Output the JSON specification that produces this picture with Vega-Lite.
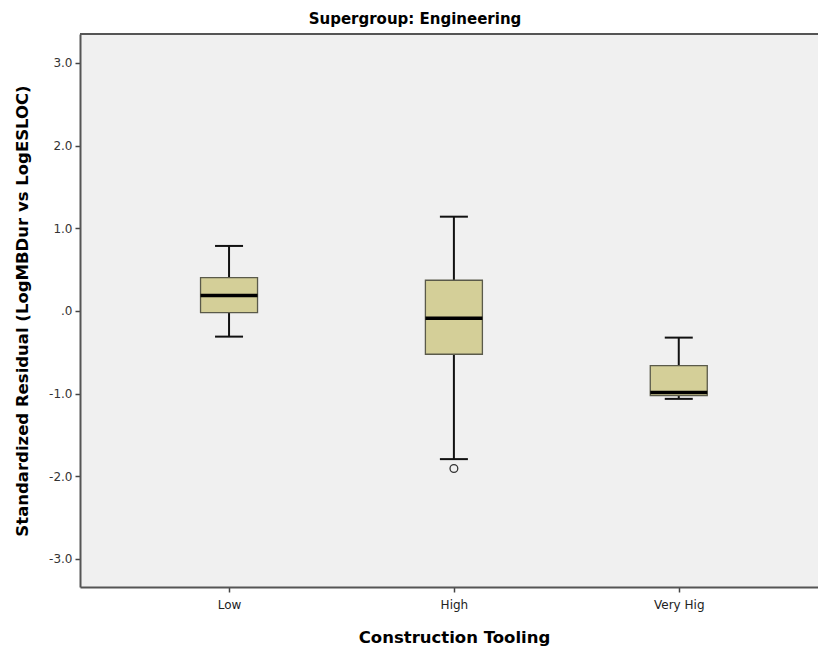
{
  "$schema": "https://vega.github.io/schema/vega-lite/v6.json",
  "width": 738,
  "height": 553,
  "autosize": {"type": "none"},
  "padding": {"left": 80, "top": 34, "right": 0, "bottom": 62},
  "background": "#ffffff",
  "title": {
    "text": "Supergroup: Engineering",
    "font": "DejaVu Sans",
    "fontSize": 15,
    "fontWeight": "bold",
    "color": "#000000",
    "anchor": "middle",
    "dx": -34,
    "offset": 6
  },
  "datasets": {
    "boxes": [
      {"tooling": "Low", "lower": -0.311, "q1": -0.02, "median": 0.185, "q3": 0.403, "upper": 0.786},
      {"tooling": "High", "lower": -1.793, "q1": -0.524, "median": -0.088, "q3": 0.371, "upper": 1.14},
      {"tooling": "Very High", "lower": -1.064, "q1": -1.024, "median": -0.988, "q3": -0.661, "upper": -0.323}
    ],
    "outliers": [
      {"tooling": "High", "value": -1.907}
    ]
  },
  "data": {"name": "boxes"},
  "encoding": {
    "x": {
      "field": "tooling",
      "type": "nominal",
      "sort": ["Low", "High", "Very High"],
      "scale": {"type": "point", "domain": ["Low", "High", "Very High"], "padding": 0.641, "align": 0.517},
      "axis": {
        "title": "Construction Tooling",
        "titleFont": "DejaVu Sans",
        "titleFontSize": 16.5,
        "titleFontWeight": "bold",
        "titleColor": "#000000",
        "titleX": 374,
        "titleY": 50,
        "titleBaseline": "middle",
        "labelFont": "DejaVu Sans",
        "labelFontSize": 12,
        "labelColor": "#222222",
        "labelAngle": 0,
        "labelPadding": 7,
        "labelExpr": "datum.label == 'Very High' ? 'Very Hig' : datum.label",
        "tickSize": 5,
        "tickColor": "#444444",
        "tickWidth": 1.5,
        "domainColor": "#555555",
        "domainWidth": 2,
        "grid": false
      }
    }
  },
  "layer": [
    {
      "mark": {"type": "rule", "color": "#555555", "strokeWidth": 2},
      "encoding": {"x": null, "y": {"datum": 3.35, "type": "quantitative"}}
    },
    {
      "mark": {"type": "rule", "color": "#111111", "strokeWidth": 2, "opacity": 1},
      "encoding": {
        "y": {
          "field": "lower",
          "type": "quantitative",
          "scale": {"domain": [-3.34, 3.35], "nice": false, "zero": false},
          "axis": {
            "title": "Standardized Residual (LogMBDur vs LogESLOC)",
            "titleFont": "DejaVu Sans",
            "titleFontSize": 16.5,
            "titleFontWeight": "bold",
            "titleColor": "#000000",
            "titleX": -58,
            "titleBaseline": "middle",
            "values": [-3, -2, -1, 0, 1, 2, 3],
            "labelExpr": "datum.value == 0 ? '.0' : replace(format(datum.value, '.1f'), '\u2212', '-')",
            "labelFont": "DejaVu Sans",
            "labelFontSize": 12,
            "labelColor": "#333333",
            "labelPadding": 3,
            "tickSize": 5,
            "tickColor": "#444444",
            "tickWidth": 1.5,
            "domainColor": "#555555",
            "domainWidth": 2,
            "grid": false
          }
        },
        "y2": {"field": "upper"}
      }
    },
    {
      "mark": {"type": "tick", "color": "#111111", "opacity": 1, "thickness": 2, "size": 28},
      "encoding": {"y": {"field": "upper", "type": "quantitative"}}
    },
    {
      "mark": {"type": "tick", "color": "#111111", "opacity": 1, "thickness": 2, "size": 28},
      "encoding": {"y": {"field": "lower", "type": "quantitative"}}
    },
    {
      "mark": {"type": "bar", "size": 57, "fill": "#d4cf98", "opacity": 1, "stroke": "#5a5a4a", "strokeWidth": 1.3},
      "encoding": {
        "y": {"field": "q1", "type": "quantitative"},
        "y2": {"field": "q3"}
      }
    },
    {
      "mark": {"type": "tick", "color": "#000000", "opacity": 1, "thickness": 3.5, "size": 57},
      "encoding": {"y": {"field": "median", "type": "quantitative"}}
    },
    {
      "data": {"name": "outliers"},
      "mark": {"type": "point", "shape": "circle", "filled": false, "opacity": 1, "stroke": "#333333", "strokeWidth": 1.3, "size": 60},
      "encoding": {"y": {"field": "value", "type": "quantitative"}}
    }
  ],
  "config": {
    "view": {"fill": "#f0f0f0", "stroke": null}
  }
}
